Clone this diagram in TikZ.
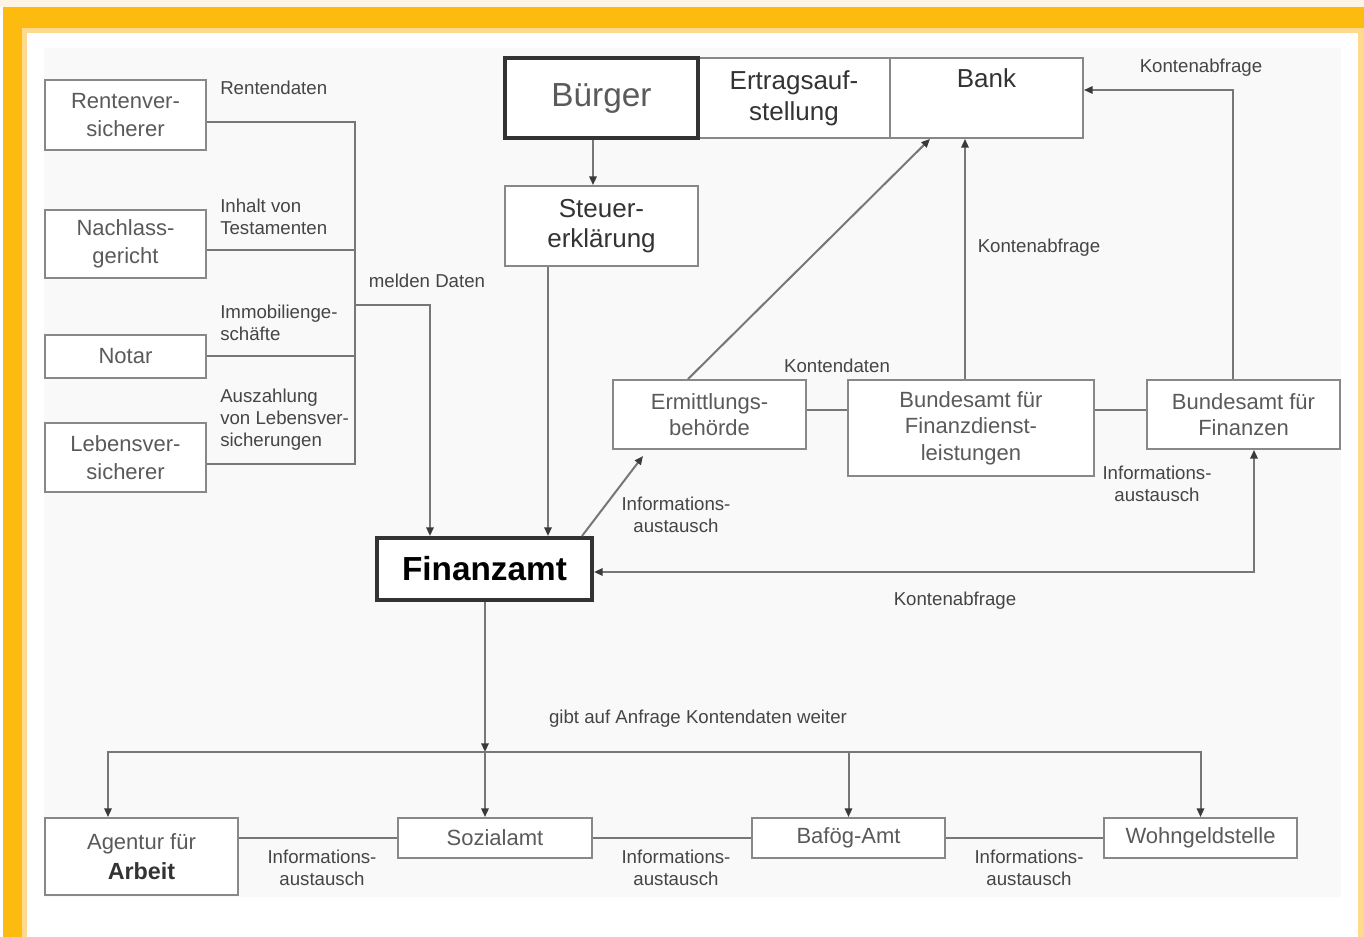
\documentclass[tikz,border=0pt]{standalone}
\usepackage{fontspec}
\setmainfont{Liberation Sans}
\usetikzlibrary{arrows.meta,calc}
\definecolor{orangeband}{HTML}{FDBB10}
\definecolor{orangelight}{HTML}{FFD98E}
\definecolor{toppale}{HTML}{FDF4E6}
\definecolor{panel}{HTML}{F9F9F9}
\definecolor{linegray}{HTML}{777777}
\definecolor{boxgray}{HTML}{888888}
\definecolor{txtgray}{HTML}{5A5A5A}
\definecolor{txtdark}{HTML}{333333}
\definecolor{lblgray}{HTML}{454545}
\definecolor{tipgray}{HTML}{3A3A3A}
\begin{document}
\begin{tikzpicture}[x=0.75pt,y=-0.75pt,
  box/.style={draw=boxgray,line width=1.4pt,fill=white,inner sep=0pt,align=center,
    text=txtgray,font=\fontsize{16.5}{21}\selectfont},
  darkbox/.style={box,text=txtdark,font=\fontsize{19.5}{23}\selectfont},
  thickbox/.style={box,draw=black!80,line width=3pt},
  lbl/.style={inner sep=0pt,text=lblgray,font=\fontsize{14}{16.5}\selectfont},
  line/.style={draw=linegray,line width=1.5pt},
  arr/.style={line,-{Triangle[length=6.5pt,width=5.5pt,color=tipgray]}},
  arrboth/.style={line,{Triangle[length=6.5pt,width=5.5pt,color=tipgray]}-{Triangle[length=6.5pt,width=5.5pt,color=tipgray]}}]
\useasboundingbox (0,0) rectangle (1364,937);
% frame
\fill[white] (0,0) rectangle (1364,937);
\fill[toppale] (0,0) rectangle (1364,7);
\fill[orangeband] (3,7) rectangle (1364,28);
\fill[orangeband] (3,7) rectangle (22,937);
\fill[orangelight] (22,28) rectangle (1358,33);
\fill[orangelight] (22,28) rectangle (27,937);
\fill[orangelight] (1358,28) rectangle (1364,937);
\fill[panel] (44,48) rectangle (1341,897);

% helper coordinates
\coordinate (c90) at (1233,90);
\coordinate (c108) at (108,0);
\coordinate (c548) at (548,0);
\coordinate (c582) at (582,0);
\coordinate (c593) at (593,0);
\coordinate (c688) at (688,0);
\coordinate (c930) at (930,0);
\coordinate (c965) at (965,0);
\coordinate (c1254) at (1254,0);
\coordinate (c410) at (0,410);
\coordinate (c572) at (0,572);
\coordinate (jr) at (355,122);
\coordinate (jl) at (355,464);
\coordinate (jm) at (355,305);
\coordinate (jt) at (430,305);
\coordinate (jb) at (485,752);
\coordinate (e1) at (643,456);

% left column
\node[box,minimum width=161*0.75pt,minimum height=70*0.75pt] (renten) at (125.5,115) {Rentenver-\\sicherer};
\node[box,minimum width=161*0.75pt,minimum height=68*0.75pt] (nachlass) at (125.5,244) {Nachlass-\\gericht};
\node[box,minimum width=161*0.75pt,minimum height=43*0.75pt] (notar) at (125.5,356.5) {Notar};
\node[box,minimum width=161*0.75pt,minimum height=69*0.75pt] (lebens) at (125.5,457.5) {Lebensver-\\sicherer};

% top row
\node[darkbox,minimum width=192*0.75pt,minimum height=80*0.75pt] (ertrag) at (794,98) {Ertragsauf-\\stellung};
\node[darkbox,minimum width=193*0.75pt,minimum height=80*0.75pt] (bank) at (986.5,98) {Bank\\\strut};
\node[thickbox,minimum width=193*0.75pt,minimum height=80*0.75pt,font=\fontsize{25}{28}\selectfont] (buerger) at (601.5,98) {Bürger};
\node[darkbox,minimum width=193*0.75pt,minimum height=80*0.75pt] (steuer) at (601.5,226) {Steuer-\\erklärung};

% Finanzamt
\node[thickbox,minimum width=215*0.75pt,minimum height=62*0.75pt,text=black,font=\fontsize{25}{28}\selectfont\bfseries] (finanzamt) at (484.5,569) {Finanzamt};

% middle row
\node[box,minimum width=193*0.75pt,minimum height=69*0.75pt,font=\fontsize{16.5}{20}\selectfont] (ermittlung) at (709.5,414.5) {Ermittlungs-\\behörde};
\node[box,minimum width=246*0.75pt,minimum height=96*0.75pt,font=\fontsize{16.5}{20}\selectfont] (bafin) at (971,428) {Bundesamt für\\Finanzdienst-\\leistungen};
\node[box,minimum width=193*0.75pt,minimum height=69*0.75pt,font=\fontsize{16.5}{20}\selectfont] (bff) at (1243.5,414.5) {Bundesamt für\\Finanzen};

% bottom row
\node[box,minimum width=193*0.75pt,minimum height=77*0.75pt,font=\fontsize{16.5}{22.5}\selectfont] (agentur) at (141.5,856.5) {Agentur für\\{\fontsize{17.5}{22.5}\selectfont\bfseries\color{txtdark}Arbeit}};
\node[box,minimum width=194*0.75pt,minimum height=40*0.75pt] (sozial) at (495,838) {Sozialamt};
\node[box,minimum width=193*0.75pt,minimum height=40*0.75pt] (bafoeg) at (848.5,838) {Bafög-Amt};
\node[box,minimum width=193*0.75pt,minimum height=40*0.75pt] (wohngeld) at (1200.5,838) {Wohngeldstelle};

% left connectors
\draw[line] ($(renten.east)+(0,7)$) -- (jr) -- (jl) -- ($(lebens.east)+(0,6.5)$);
\draw[line] ($(nachlass.east)+(0,6)$) -- +(149,0);
\draw[line] (notar.east) -- +(149,0);
\draw[arr] (jm) -- (jt) -- (finanzamt.north -| jt);

% top connectors
\draw[arr] (buerger.south -| c593) -- (steuer.north -| c593);
\draw[arr] (steuer.south -| c548) -- (finanzamt.north -| c548);
\draw[arr] (ermittlung.north -| c688) -- (bank.south -| c930);
\draw[arr] (bafin.north -| c965) -- (bank.south -| c965);
\draw[arr] (bff.north -| c90) -- (c90) -- (bank.east |- c90);

% middle connectors
\draw[line] (ermittlung.east |- c410) -- (bafin.west |- c410);
\draw[line] (bafin.east |- c410) -- (bff.west |- c410);
\draw[arr] (finanzamt.north -| c582) -- (e1);
\draw[arrboth] (bff.south -| c1254) |- (finanzamt.east |- c572);

% bottom connectors
\draw[arr] (finanzamt.south -| jb) -- (jb);
\draw[arr] (jb) -| (agentur.north -| c108);
\draw[arr] (jb) -- (sozial.north -| jb);
\draw[arr] (jb) -| (bafoeg.north);
\draw[arr] (jb) -| (wohngeld.north);
\draw[line] (agentur.east |- sozial.west) -- (sozial.west);
\draw[line] (sozial.east) -- (bafoeg.west);
\draw[line] (bafoeg.east) -- (wohngeld.west);

% labels
\node[lbl,anchor=west] (l1) at (220,88) {Rentendaten};
\node[lbl,anchor=west,align=left] (l2) at (220,217) {Inhalt von\\Testamenten};
\node[lbl,anchor=west,align=left] (l3) at (220,323) {Immobilienge-\\schäfte};
\node[lbl,anchor=west,align=left] (l4) at (220,420) {Auszahlung\\von Lebensver-\\sicherungen};
\node[lbl] (l5) at (427,281) {melden Daten};
\node[lbl] (l6) at (1201,68) {Kontenabfrage};
\node[lbl] (l7) at (1039,248) {Kontenabfrage};
\node[lbl] (l8) at (837,366) {Kontendaten};
\node[lbl,align=center] (l9) at (1157,484) {Informations-\\austausch};
\node[lbl,align=center] (l10) at (676,515) {Informations-\\austausch};
\node[lbl] (l11) at (955,601) {Kontenabfrage};
\node[lbl] (l12) at (698,719) {gibt auf Anfrage Kontendaten weiter};
\node[lbl,align=center] (l13) at (322,868) {Informations-\\austausch};
\node[lbl,align=center] (l14) at (676,868) {Informations-\\austausch};
\node[lbl,align=center] (l15) at (1029,868) {Informations-\\austausch};
\end{tikzpicture}
\end{document}
